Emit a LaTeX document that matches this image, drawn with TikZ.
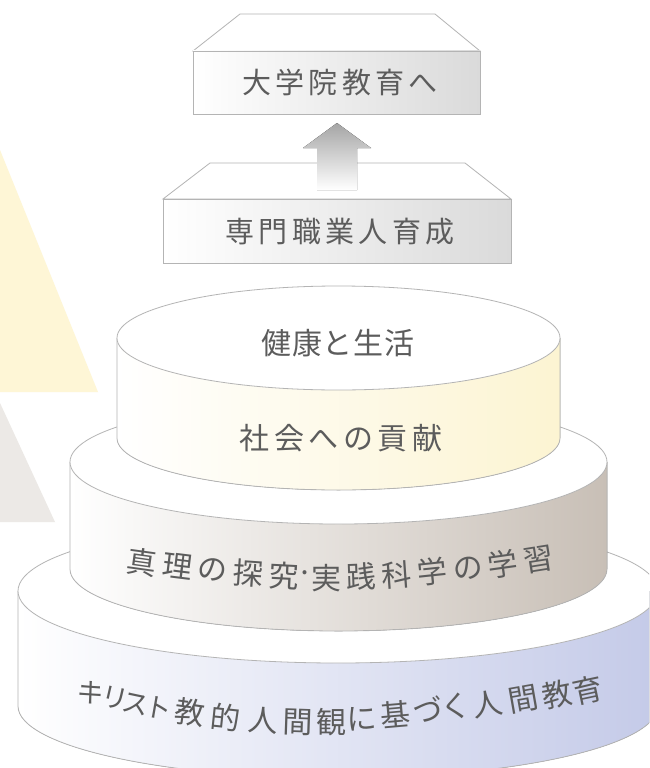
\documentclass[tikz,border=0pt]{standalone}
\usepackage{fontspec}
\newfontfamily\jp{Noto Sans CJK JP}
\definecolor{txt}{RGB}{92,92,92}
\definecolor{edge}{RGB}{180,180,180}
\definecolor{yelTri}{RGB}{254,246,214}
\definecolor{grayTri}{RGB}{236,233,230}
\definecolor{boxR}{RGB}{218,218,218}
\definecolor{cylA}{RGB}{252,244,210}
\definecolor{cylB}{RGB}{200,191,182}
\definecolor{cylC}{RGB}{196,202,232}
\definecolor{arr}{RGB}{165,165,165}
\tikzset{
  edgeline/.style={draw=edge, line width=0.8pt},
  btext/.style={text=txt, inner sep=0pt, font=\jp\fontsize{29}{32}\selectfont\addfontfeature{LetterSpace=15}},
  ctext/.style={text=txt, inner sep=0pt, font=\jp\fontsize{30}{33}\selectfont},
  ktext/.style={text=txt, inner sep=0pt, font=\jp\fontsize{27}{30}\selectfont},
}
% cx, cyT, rx, ry, H, colour
\newcommand\mycyl[6]{%
  \fill[left color=white, right color=#6]
    (#1-#3,#2) -- (#1-#3,#2+#5)
    arc[start angle=180, end angle=360, x radius=#3pt, y radius=#4pt]
    -- (#1+#3,#2) -- cycle;
  \draw[edgeline] (#1-#3,#2) -- (#1-#3,#2+#5)
    arc[start angle=180, end angle=360, x radius=#3pt, y radius=#4pt]
    -- (#1+#3,#2);
  \filldraw[edgeline, fill=white] (#1,#2) ellipse[x radius=#3pt, y radius=#4pt];
}
\begin{document}
\begin{tikzpicture}[x=1pt, y=-1pt]
\clip (0,0) rectangle (649,768);
\fill[white] (0,0) rectangle (649,768);
% background triangles
\fill[yelTri] (0,150) -- (98,392) -- (0,392) -- cycle;
\fill[grayTri] (0,403) -- (55,522) -- (0,522) -- cycle;

% top box
\filldraw[edgeline, fill=white] (240,14) -- (435,14) -- (480,51) -- (193,51) -- cycle;
\draw[edgeline, left color=white, right color=boxR] (193,51) rectangle (480,114);
\node[btext] (t1) at (340,82) {大学院教育へ};

% second box
\filldraw[edgeline, fill=white] (210,163) -- (465,163) -- (511,199) -- (163,199) -- cycle;
\draw[edgeline, left color=white, right color=boxR] (163,199) rectangle (511,263);
\node[btext] (t2) at (340,232) {専門職業人育成};

% arrow
\fill[top color=arr, bottom color=white] (337,123) -- (371,148) -- (357,148) -- (357,190)
  -- (317,190) -- (317,148) -- (303,148) -- cycle;

% cylinders
\mycyl{338}{591}{320}{72}{115}{cylC}
\mycyl{338.5}{462}{268.5}{62}{107}{cylB}
\mycyl{338.5}{338}{221.5}{52}{100}{cylA}

\node[btext, font=\jp\fontsize{30}{33}\selectfont\addfontfeature{LetterSpace=3}] (h1) at (338,343) {健康と生活};
\node[btext, font=\jp\fontsize{30}{33}\selectfont\addfontfeature{LetterSpace=15}] (h2) at (341,438) {社会への貢献};

\foreach \ch/\x/\y/\a [count=\i] in {真/142/562/-8, 理/177.4/566/-7, の/212.8/570/-6, 探/248.2/573/-4,
  究/283.6/576/-3, ·/304.8/577/-1, 実/326.1/578/0, 践/361.5/577/2, 科/396.9/575/4, 学/432.3/572/6,
  の/467.7/568/7, 学/503.1/564/8, 習/538.5/560/9}
  \node[ctext, rotate=\a] (m\i) at (\x,\y) {\ch};

\foreach \ch/\x/\y/\a [count=\i] in {キ/91/693/-13, リ/115/698/-13, ス/136/704/-12, ト/159/708/-10}
  \node[ktext, rotate=\a] (k\i) at (\x,\y) {\makebox[17pt]{\ch}};

\foreach \ch/\x/\y/\a [count=\i] in {教/190/712/-8, 的/226/717/-6, 人/263/720/-4, 間/298/722/-2,
  観/331/722/0, に/362/719/3, 基/395/714/5, づ/428/709/7, く/456/706/8, 人/488/704/9,
  間/523/699/10, 教/557/694/11, 育/588/690/12}
  \node[ctext, rotate=\a] (b\i) at (\x,\y) {\ch};
\end{tikzpicture}
\end{document}
